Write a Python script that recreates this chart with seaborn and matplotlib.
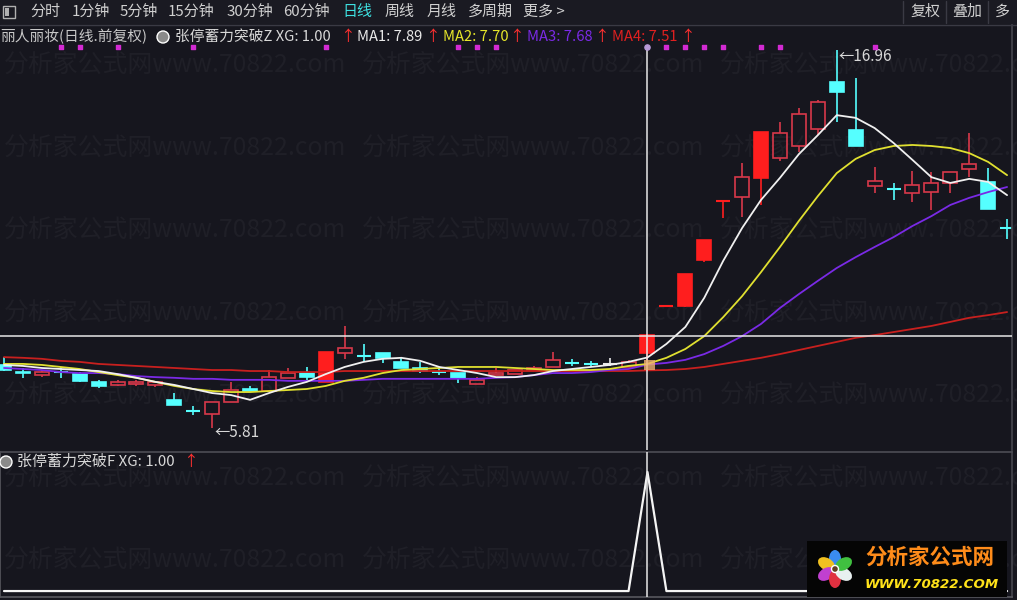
import numpy as np
import pandas as pd
import seaborn as sns
import matplotlib.pyplot as plt
from matplotlib.patches import Rectangle, Ellipse
from matplotlib import transforms

# daily candles
opens = [7.67, 7.45, 7.37, 7.47, 7.40, 7.17, 7.08, 7.11, 7.08, 6.64,
         6.30, 6.22, 6.58, 6.96, 6.90, 7.29, 7.43, 7.17, 8.02, 7.95,
         8.02, 7.76, 7.58, 7.47, 7.43, 7.11, 7.37, 7.40, 7.52, 7.61,
         7.74, 7.71, 7.70, 7.61, 8.02, 9.40, 9.41, 10.77, 12.51, 12.62,
         13.18, 13.78, 14.13, 14.63, 16.02, 14.60, 12.95, 12.85, 12.74, 12.77,
         13.04, 13.45, 13.07, 11.72]
closes = [7.52, 7.42, 7.46, 7.45, 7.20, 7.05, 7.17, 7.17, 7.17, 6.49,
          6.31, 6.58, 6.93, 6.90, 7.31, 7.43, 7.31, 8.04, 8.17, 7.93,
          7.88, 7.58, 7.49, 7.46, 7.29, 7.23, 7.43, 7.52, 7.58, 7.82,
          7.73, 7.70, 7.70, 7.76, 8.55, 9.40, 10.34, 11.37, 12.51, 13.21,
          14.53, 14.51, 15.07, 15.43, 15.72, 14.13, 13.10, 12.87, 12.98, 13.04,
          13.36, 13.60, 12.27, 11.70]
highs = [7.90, 7.58, 7.52, 7.61, 7.46, 7.23, 7.23, 7.23, 7.20, 6.84,
         6.46, 6.58, 7.17, 7.05, 7.52, 7.58, 7.61, 8.04, 8.82, 8.29,
         8.02, 7.90, 7.76, 7.58, 7.43, 7.31, 7.58, 7.52, 7.64, 8.05,
         7.85, 7.79, 7.88, 7.82, 8.55, 9.40, 10.34, 11.37, 12.51, 13.63,
         14.53, 14.84, 15.25, 15.49, 16.96, 16.13, 13.51, 13.04, 13.39, 13.36,
         13.36, 14.51, 13.48, 11.98]
lows = [7.49, 7.29, 7.31, 7.29, 7.17, 6.99, 7.05, 7.05, 7.02, 6.49,
        6.19, 5.81, 6.58, 6.90, 6.90, 7.29, 7.17, 7.17, 7.85, 7.76,
        7.73, 7.58, 7.43, 7.37, 7.14, 7.11, 7.37, 7.40, 7.52, 7.61,
        7.64, 7.64, 7.64, 7.61, 7.82, 9.40, 9.38, 10.71, 12.00, 12.03,
        12.39, 13.70, 13.95, 14.45, 14.84, 14.13, 12.74, 12.54, 12.48, 12.24,
        12.74, 13.21, 12.27, 11.39]

# moving average lines
ma1 = [7.67, 7.64, 7.58, 7.55, 7.52, 7.49, 7.40, 7.29, 7.17, 7.08,
       6.96, 6.84, 6.78, 6.64, 6.84, 7.02, 7.17, 7.40, 7.61, 7.76,
       7.85, 7.88, 7.79, 7.61, 7.52, 7.43, 7.31, 7.31, 7.37, 7.49,
       7.55, 7.61, 7.67, 7.76, 7.89, 8.29, 8.79, 9.65, 10.74, 11.71,
       12.54, 13.19, 13.89, 14.45, 15.04, 14.96, 14.66, 14.22, 13.72, 13.21,
       13.04, 13.16, 13.07, 12.68]
ma2 = [7.70, 7.70, 7.67, 7.61, 7.55, 7.46, 7.37, 7.29, 7.17, 7.05,
       6.96, 6.90, 6.87, 6.87, 6.90, 6.93, 6.96, 7.05, 7.20, 7.29,
       7.43, 7.52, 7.55, 7.58, 7.61, 7.61, 7.61, 7.58, 7.55, 7.52,
       7.52, 7.52, 7.55, 7.64, 7.70, 7.88, 8.14, 8.52, 9.08, 9.70,
       10.41, 11.15, 11.92, 12.65, 13.33, 13.75, 14.01, 14.13, 14.16, 14.13,
       14.07, 13.92, 13.66, 13.27]
ma3 = [7.58, 7.55, 7.52, 7.46, 7.43, 7.43, 7.40, 7.34, 7.31, 7.29,
       7.26, 7.26, 7.23, 7.23, 7.23, 7.20, 7.20, 7.20, 7.20, 7.23,
       7.26, 7.26, 7.26, 7.26, 7.26, 7.26, 7.29, 7.31, 7.37, 7.43,
       7.43, 7.46, 7.52, 7.55, 7.68, 7.73, 7.82, 7.99, 8.23, 8.52,
       8.88, 9.35, 9.76, 10.15, 10.53, 10.85, 11.15, 11.44, 11.77, 12.06,
       12.39, 12.60, 12.77, 12.92]
ma4 = [7.90, 7.88, 7.85, 7.79, 7.76, 7.70, 7.67, 7.64, 7.61, 7.58,
       7.55, 7.52, 7.52, 7.49, 7.49, 7.46, 7.46, 7.46, 7.49, 7.49,
       7.49, 7.49, 7.49, 7.49, 7.49, 7.49, 7.49, 7.49, 7.49, 7.49,
       7.49, 7.49, 7.49, 7.49, 7.51, 7.52, 7.55, 7.61, 7.70, 7.79,
       7.88, 7.99, 8.11, 8.23, 8.35, 8.47, 8.55, 8.64, 8.73, 8.82,
       8.94, 9.06, 9.14, 9.23]

# lower indicator (XG of 张停蓄力突破F)
xg_f = [0, 0, 0, 0, 0, 0, 0, 0, 0, 0,
        0, 0, 0, 0, 0, 0, 0, 0, 0, 0,
        0, 0, 0, 0, 0, 0, 0, 0, 0, 0,
        0, 0, 0, 0, 1, 0, 0, 0, 0, 0,
        0, 0, 0, 0, 0, 0, 0, 0, 0, 0,
        0, 0, 0, 0]
signal_days = [3, 4, 6, 10, 17, 24, 25, 26, 35, 36, 37, 38, 40, 41, 46]
cursor_day = 34

menu_items = ['分时', '1分钟', '5分钟', '15分钟', '30分钟', '60分钟',
              '日线', '周线', '月线', '多周期', '更多 >']
menu_x = [30, 72, 120, 168, 227, 283, 342, 385, 427, 468, 523]
right_menu = ['复权', '叠加', '多']
right_menu_x = [910, 952, 995]

BG = '#16161e'
RED = '#ff1e1e'
HOLLOW = '#d8384a'
CYAN = '#55ffff'
W, H = 1017, 600
FS = 10.6


def fx(x):
    return x / W


def fy(y):
    return 1 - y / H


sns.set_theme(style='dark')
plt.rcParams['font.family'] = ['Noto Sans CJK SC', 'DejaVu Sans']

fig = plt.figure(figsize=(W / 100, H / 100), dpi=100)
fig.patch.set_facecolor(BG)

# watermark behind everything
for wy in [65, 148, 230, 313, 395, 478, 560]:
    for wx in [4, 362, 720]:
        fig.text(fx(wx), fy(wy), '分析家公式网www.70822.com', fontsize=17.9,
                 color='#1f1f27', ha='left', va='center', zorder=-1)

ax = fig.add_axes([0, 1 - 450 / H, 1012 / W, 425 / H])
ax2 = fig.add_axes([0, 1 - 597 / H, 1012 / W, 145 / H])
for a in (ax, ax2):
    a.set_facecolor('none')
    a.set_xticks([])
    a.set_yticks([])
    a.grid(False)
    for s in a.spines.values():
        s.set_visible(False)
    a.spines['right'].set_visible(True)
    a.spines['right'].set_color('#44444c')
    a.set_xlim(-0.211, 53.26)
ax2.spines['left'].set_visible(True)
ax2.spines['left'].set_color('#55555c')
ax2.spines['top'].set_visible(True)
ax2.spines['top'].set_color('#4a4a52')
ax2.spines['bottom'].set_visible(True)
ax2.spines['bottom'].set_color('#55555c')
ax.set_ylim(5.16, 17.70)
ax2.set_ylim(-0.05, 1.168)

days = np.arange(len(closes))
width = 0.74

# candles
for i in days:
    o, c, h, l = opens[i], closes[i], highs[i], lows[i]
    prev = closes[i - 1] if i > 0 else o
    top, bot = max(o, c), min(o, c)
    if abs(c - o) < 0.03:
        col = RED if c > prev else (CYAN if c < prev else '#e8e8e8')
        ax.vlines(i, l, h, color=col, lw=1.2, zorder=2)
        ax.hlines((o + c) / 2, i - width / 2, i + width / 2, color=col,
                  lw=1.5, zorder=2)
        continue
    if c > o:
        solid = i > 0 and c >= prev * 1.095
        col = RED if solid else HOLLOW
        face = RED if solid else 'none'
    else:
        col = CYAN
        face = CYAN
    ax.vlines(i, top, h, color=col, lw=1.2, zorder=2)
    ax.vlines(i, l, bot, color=col, lw=1.2, zorder=2)
    ax.bar(i, top - bot, bottom=bot, width=width, facecolor=face,
           edgecolor=col, linewidth=1.2, zorder=2)

# moving averages
sns.lineplot(x=days, y=ma4, ax=ax, color='#c8201e', lw=1.3, zorder=3)
sns.lineplot(x=days, y=ma3, ax=ax, color='#7a2ae6', lw=1.3, zorder=3)
sns.lineplot(x=days, y=ma2, ax=ax, color='#e0e030', lw=1.3, zorder=3)
sns.lineplot(x=days, y=ma1, ax=ax, color='#f0f0f0', lw=1.3, zorder=3)

# extreme labels
imax = int(np.argmax(highs))
imin = int(np.argmin(lows))
ax.text(imax + 0.1, highs[imax] - 0.2, '←16.96', color='#d8d8d8',
        fontsize=11, ha='left', va='center', zorder=5)
ax.text(imin + 0.1, lows[imin] - 0.12, '←5.81', color='#d8d8d8',
        fontsize=11, ha='left', va='center', zorder=5)

# signal dots along the top of the price pane
trans = transforms.blended_transform_factory(ax.transData, ax.transAxes)
ax.scatter(signal_days, [0.948] * len(signal_days), transform=trans,
           marker='s', s=10, color='#d22ad2', zorder=5, clip_on=False)
ax.scatter([cursor_day], [0.948], transform=trans, marker='o', s=14,
           color='#b89ad8', zorder=5, clip_on=False)

# crosshair
ax.axvline(cursor_day, ymin=0, ymax=0.948, color='#e8e8e8', lw=1.1,
           zorder=4)
ax2.axvline(cursor_day, color='#e8e8e8', lw=1.1, zorder=4)
ax.axhline(closes[cursor_day] - 0.03, color='#e8e8e8', lw=1.1, zorder=4)
ax.scatter([cursor_day + 0.1], [7.67], marker='s', s=55, color='#f0b070',
           alpha=0.8, zorder=4, edgecolors='none')

# lower pane indicator
sns.lineplot(x=days, y=xg_f, ax=ax2, color='#f4f4f4', lw=1.6, zorder=3)

# toolbar
fig.patches.append(Rectangle((0, fy(24)), 1, 24 / H, transform=fig.transFigure,
                             facecolor='#1a1a22', edgecolor='none', zorder=-2))
fig.lines.append(plt.Line2D([0, 1], [fy(24.5), fy(24.5)],
                            transform=fig.transFigure, color='#3a3a44', lw=1))
fig.patches.append(Rectangle((fx(3), fy(18)), 12 / W, 12 / H,
                             transform=fig.transFigure, facecolor='none',
                             edgecolor='#b0b0b0', lw=1))
fig.patches.append(Rectangle((fx(5), fy(16)), 4 / W, 8 / H,
                             transform=fig.transFigure, facecolor='#b0b0b0',
                             edgecolor='none'))
for label, x in zip(menu_items, menu_x):
    fig.text(fx(x), fy(12), label, fontsize=10.8, ha='left', va='center',
             color='#3ee0e0' if label == '日线' else '#d0d0d0')
for label, x in zip(right_menu, right_menu_x):
    fig.text(fx(x), fy(12), label, fontsize=10.8, ha='left', va='center',
             color='#d0d0d0')
for sx in [903, 946, 988]:
    fig.lines.append(plt.Line2D([fx(sx), fx(sx)], [fy(1), fy(23)],
                                transform=fig.transFigure, color='#3a3a44',
                                lw=1))

# header of the price pane
fig.text(fx(0), fy(37), '丽人丽妆(日线.前复权)', fontsize=FS, ha='left',
         va='center', color='#c8c8c8')
fig.patches.append(Ellipse((fx(163), fy(37)), 12 / W, 12 / H,
                           transform=fig.transFigure, facecolor='#8a8a8a'))
header = [(175, '张停蓄力突破Z XG: 1.00', '#d8d8d8'), (340, '↑', '#ff3030'),
          (357, 'MA1: 7.89', '#e8e8e8'), (425, '↑', '#ff3030'),
          (443, 'MA2: 7.70', '#e6e62a'), (509, '↑', '#ff3030'),
          (527, 'MA3: 7.68', '#7a2ae6'), (594, '↑', '#ff3030'),
          (612, 'MA4: 7.51', '#e02020'), (680, '↑', '#ff3030')]
for x, label, col in header:
    fig.text(fx(x), fy(37), label, fontsize=FS, ha='left', va='center',
             color=col)

# header of the lower pane
fig.patches.append(Ellipse((fx(6), fy(462)), 12 / W, 12 / H,
                           transform=fig.transFigure, facecolor='#8a8a8a'))
fig.text(fx(17), fy(462), '张停蓄力突破F XG: 1.00', fontsize=10.8,
         ha='left', va='center', color='#d8d8d8')
fig.text(fx(183), fy(462), '↑', fontsize=FS, ha='left', va='center',
         color='#ff3030')

# site logo in the bottom right corner
fig.patches.append(Rectangle((fx(807), fy(597)), 200 / W, 56 / H,
                             transform=fig.transFigure, facecolor='#050505',
                             edgecolor='none', zorder=5))
petals = ['#3a8cf0', '#f0c020', '#c040d0', '#e03040', '#e8f0f0', '#40c040']
for k, pc in enumerate(petals):
    ang = 90 + 60 * k
    cx = 835 + 10 * np.cos(np.deg2rad(ang))
    cy = 569 - 10 * np.sin(np.deg2rad(ang))
    fig.patches.append(Ellipse((cx / 100, (H - cy) / 100), 0.12, 0.18,
                               angle=ang - 90, transform=fig.dpi_scale_trans,
                               facecolor=pc, edgecolor='none', zorder=6))
fig.patches.append(Ellipse((835 / 100, (H - 569) / 100), 0.07, 0.07,
                           transform=fig.dpi_scale_trans, facecolor='#604020',
                           zorder=7))
fig.text(fx(865), fy(557), '分析家公式网', fontsize=15.5, fontweight='bold',
         style='italic', color='#ff8c1a', ha='left', va='center', zorder=8)
fig.text(fx(865), fy(584), 'WWW.70822.COM', fontsize=9.6, fontweight='bold',
         style='italic', color='#ffe21a', ha='left', va='center', zorder=8,
         family=['DejaVu Sans'])

fig.savefig('out.png', dpi=100, facecolor=BG)
